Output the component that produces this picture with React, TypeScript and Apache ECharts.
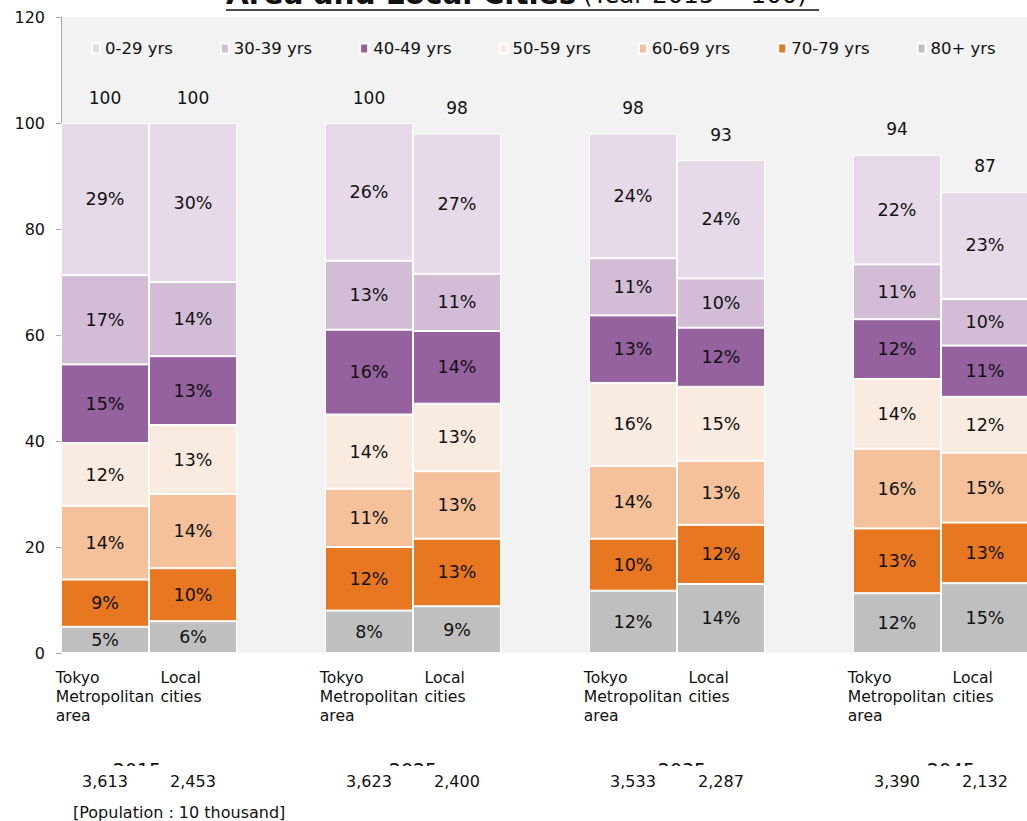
import React, { useEffect, useRef } from "react";
import * as echarts from "echarts";

// Age groups, top of the stack first (legend order)
const ageGroups = ["0-29 yrs", "30-39 yrs", "40-49 yrs", "50-59 yrs", "60-69 yrs", "70-79 yrs", "80+ yrs"];
const groupColors = ["#E6DAE9", "#D2BCD6", "#95629F", "#FAEBE1", "#F4C19A", "#E87722", "#BFBFBF"];

// Slots on the category axis: Tokyo / Local per year, with an empty spacer between years
const slots = [
  "Tokyo\nMetropolitan\narea", "Local\ncities", "",
  "Tokyo\nMetropolitan\narea", "Local\ncities", "",
  "Tokyo\nMetropolitan\narea", "Local\ncities", "",
  "Tokyo\nMetropolitan\narea", "Local\ncities",
];
const years = ["2015", "2025", "2035", "2045"];

// Share of each age group in every slot (%)
const share0to29 = [29, 30, null, 26, 27, null, 24, 24, null, 22, 23];
const share30to39 = [17, 14, null, 13, 11, null, 11, 10, null, 11, 10];
const share40to49 = [15, 13, null, 16, 14, null, 13, 12, null, 12, 11];
const share50to59 = [12, 13, null, 14, 13, null, 16, 15, null, 14, 12];
const share60to69 = [14, 14, null, 11, 13, null, 14, 13, null, 16, 15];
const share70to79 = [9, 10, null, 12, 13, null, 10, 12, null, 13, 13];
const share80plus = [5, 6, null, 8, 9, null, 12, 14, null, 12, 15];

// Population index (2015 = 100) and population in units of 10 thousand
const populationIndex = [100, 100, null, 100, 98, null, 98, 93, null, 94, 87];
const population = [3613, 2453, null, 3623, 2400, null, 3533, 2287, null, 3390, 2132];

const shares = [share0to29, share30to39, share40to49, share50to59, share60to69, share70to79, share80plus];

const FONT = "DejaVu Sans";

export default function App() {
  const ref = useRef<HTMLDivElement>(null);

  useEffect(() => {
    if (!ref.current) return;
    const chart = echarts.init(ref.current, null, { renderer: "svg" });

    const shareSum = slots.map((_, i) =>
      shares.reduce((s, arr) => s + (arr[i] ?? 0), 0)
    );

    // Stack from the bottom: 80+ first, 0-29 last
    const barSeries = ageGroups
      .map((name, g) => {
        const arr = shares[g];
        return {
          name,
          type: "bar",
          stack: "pop",
          barCategoryGap: "0%",
          itemStyle: { color: groupColors[g], borderColor: "#ffffff", borderWidth: 1 },
          label: {
            show: true,
            position: "inside",
            fontSize: 17.5,
            fontFamily: FONT,
            color: "#111",
            formatter: (p: any) => (arr[p.dataIndex] == null ? "" : `${arr[p.dataIndex]}%`),
          },
          data: arr.map((v, i) =>
            v == null || populationIndex[i] == null
              ? "-"
              : (v * (populationIndex[i] as number)) / shareSum[i]
          ),
        };
      })
      .reverse();

    // Zero-height cap on each stack carrying the index value above the bar
    const totalSeries = {
      name: "total",
      type: "bar",
      stack: "pop",
      barCategoryGap: "0%",
      silent: true,
      itemStyle: { color: "rgba(0,0,0,0)", borderWidth: 0 },
      label: {
        show: true,
        position: "top",
        distance: 17,
        fontSize: 17,
        fontFamily: FONT,
        color: "#111",
        formatter: (p: any) =>
          populationIndex[p.dataIndex] == null ? "" : String(populationIndex[p.dataIndex]),
      },
      data: populationIndex.map((v) => (v == null ? "-" : 0)),
    };

    const yearX = [137, 413, 682, 951];

    chart.setOption({
      animation: false,
      textStyle: { fontFamily: FONT },
      grid: {
        left: 61,
        right: -2,
        top: 17,
        bottom: 168,
        outerBoundsMode: "none",
        containLabel: false,
        show: true,
        backgroundColor: "#F2F2F2",
        borderWidth: 0,
      },
      legend: {
        data: ageGroups,
        left: 86,
        top: 35,
        icon: "rect",
        itemWidth: 8,
        itemHeight: 10,
        itemGap: 47,
        textStyle: { fontSize: 16.5, color: "#111", fontFamily: FONT },
      },
      xAxis: [
        {
          type: "category",
          data: slots,
          axisLine: { show: false },
          axisTick: { show: false },
          axisLabel: {
            interval: 0,
            margin: 15,
            formatter: (v: string) => {
              if (!v) return "";
              const key = v.startsWith("Tokyo") ? "t" : "l";
              return v
                .split("\n")
                .map((line) => `{${key}|${line}}`)
                .join("\n");
            },
            rich: {
              t: { fontSize: 15.6, lineHeight: 19, align: "left", color: "#111", fontFamily: FONT },
              l: {
                fontSize: 15.6,
                lineHeight: 19,
                align: "left",
                color: "#111",
                fontFamily: FONT,
                padding: [0, 24, 0, 0],
              },
            },
          },
        },
        {
          type: "category",
          data: slots,
          position: "bottom",
          axisLine: { show: false },
          axisTick: { show: false },
          axisLabel: {
            interval: 0,
            margin: 117,
            formatter: (_v: string, i: number) =>
              population[i] == null ? "" : `{p|${(population[i] as number).toLocaleString("en-US")}}`,
            rich: {
              p: {
                fontSize: 16,
                lineHeight: 18,
                color: "#111",
                fontFamily: FONT,
                backgroundColor: "#ffffff",
                padding: [7, 35, 3, 35],
              },
            },
          },
        },
      ],
      yAxis: {
        type: "value",
        min: 0,
        max: 120,
        interval: 20,
        axisLine: { show: true, lineStyle: { color: "#A6A6A6" } },
        axisTick: { show: true, length: 5, lineStyle: { color: "#A6A6A6" } },
        splitLine: { show: false },
        axisLabel: { fontSize: 16, color: "#111", margin: 16, fontFamily: FONT },
      },
      graphic: [
        ...years.map((y, k) => ({
          type: "text",
          z: -1,
          x: yearX[k],
          y: 770,
          style: {
            text: y,
            fontSize: 19,
            fontFamily: FONT,
            fill: "#111",
            align: "center",
            verticalAlign: "middle",
          },
        })),
        {
          type: "text",
          x: 73,
          y: 812,
          style: {
            text: "[Population : 10 thousand]",
            fontSize: 16,
            fontFamily: FONT,
            fill: "#111",
            align: "left",
            verticalAlign: "middle",
          },
        },
        {
          type: "text",
          x: 226,
          y: -6,
          style: {
            text: "{b|Area and Local Cities}  {n|(Year 2015 = 100)}",
            align: "left",
            verticalAlign: "middle",
            rich: {
              b: { fontSize: 29.5, fontWeight: "bold", fontFamily: FONT, fill: "#111", color: "#111" },
              n: { fontSize: 24.5, fontFamily: FONT, fill: "#111", color: "#111" },
            },
          },
        },
        {
          type: "line",
          shape: { x1: 226, y1: 10, x2: 819, y2: 10 },
          style: { stroke: "#111", lineWidth: 1.5 },
        },
      ],
      series: [...barSeries, totalSeries],
    });

    return () => chart.dispose();
  }, []);

  return (
    <div
      ref={ref}
      style={{ position: "absolute", left: 0, top: 0, width: 1027, height: 821 }}
    />
  );
}
